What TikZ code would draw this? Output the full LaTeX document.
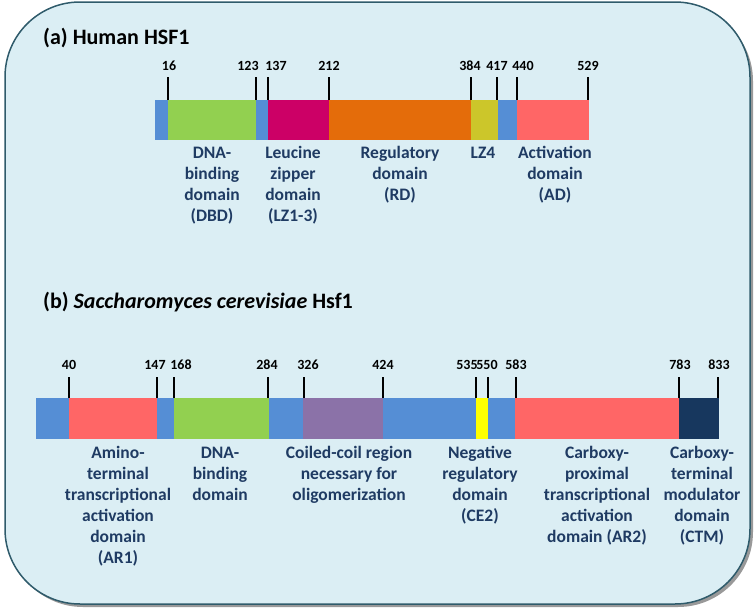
\documentclass[tikz,border=0pt]{standalone}
\usepackage{fontspec}
\setmainfont{Carlito}
\definecolor{bgc}{HTML}{DBEEF4}
\definecolor{bdc}{HTML}{2F5B6B}
\definecolor{labc}{HTML}{1F3B63}
\definecolor{cblue}{HTML}{558ED5}
\definecolor{cgreen}{HTML}{92D050}
\definecolor{cmag}{HTML}{CC0066}
\definecolor{corange}{HTML}{E46C0A}
\definecolor{colive}{HTML}{CCC62A}
\definecolor{csalmon}{HTML}{FF6666}
\definecolor{cpurple}{HTML}{8B72A8}
\definecolor{cyellow}{HTML}{FFFF00}
\definecolor{cnavy}{HTML}{17375E}
\newcommand{\fs}{\rule{0pt}{13pt}}
\begin{document}
\begin{tikzpicture}[x=1pt,y=-1pt,
  lbl/.style={font=\fontsize{17.5}{21}\selectfont\bfseries, text=labc, align=center, anchor=north, inner sep=0pt},
  num/.style={font=\fontsize{14}{16}\selectfont\bfseries, anchor=base, inner sep=0pt},
  tickline/.style={line width=1.1pt, black},
  ttl/.style={font=\fontsize{22}{26}\selectfont\bfseries, anchor=base west, inner sep=0pt}]
\useasboundingbox (0,0) rectangle (756,613);
% frame
\fill[black!40, rounded corners=75pt] (8,6) rectangle (753,607);
\filldraw[fill=bgc, draw=bdc, line width=1.5pt, rounded corners=75pt] (5,2) rectangle (750,604);
% titles
\node[ttl] (ta) at (43,44) {(a) Human HSF1};
\node[ttl] (tb) at (43,308) {(b) \textit{Saccharomyces cerevisiae} Hsf1};
% bar a
\foreach \a/\b/\c in {155/168/cblue,168/256/cgreen,256/268/cblue,268/329/cmag,329/471/corange,471/498/colive,498/517/cblue,517/589/csalmon}
  \fill[\c] (\a,100) rectangle (\b,140);
% ticks a
\foreach \t/\xn/\n in {168/169/16,256/248/123,268/276/137,329/329/212,471/470/384,497/497/417,517/523/440,588/588/529}{
  \node[num] (na\n) at (\xn,70) {\n};
  \draw[tickline] (\t,77) -- (\t,100);
}
% labels a
\node[lbl] (la1) at (212,145) {\fs DNA-\\binding\\domain\\(DBD)};
\node[lbl] (la2) at (293,145) {\fs Leucine\\zipper\\domain\\(LZ1-3)};
\node[lbl] (la3) at (400,145) {\fs Regulatory\\domain\\(RD)};
\node[lbl] (la4) at (483,145) {\fs LZ4};
\node[lbl] (la5) at (555,145) {\fs Activation\\domain\\(AD)};
% bar b
\foreach \a/\b/\c in {36/69/cblue,69/157/csalmon,157/174/cblue,174/269/cgreen,269/303/cblue,303/383/cpurple,383/476/cblue,476/488/cyellow,488/515/cblue,515/679/csalmon,679/719/cnavy}
  \fill[\c] (\a,398) rectangle (\b,439);
% ticks b
\foreach \t/\xn/\n in {69/69/40,157/155/147,174/181/168,268/267/284,304/308/326,383/383/424,476/467/535,488/487/550,516/516/583,679/680/783,718/719/833}{
  \node[num] (nb\n) at (\xn,369) {\n};
  \draw[tickline] (\t,377) -- (\t,398);
}
% labels b
\node[lbl] (lb1) at (118,445) {\fs Amino-\\terminal\\transcriptional\\activation\\domain\\(AR1)};
\node[lbl] (lb2) at (220,445) {\fs DNA-\\binding\\domain};
\node[lbl] (lb3) at (349,445) {\fs Coiled-coil region\\necessary for\\oligomerization};
\node[lbl] (lb4) at (480,445) {\fs Negative\\regulatory\\domain\\(CE2)};
\node[lbl] (lb5) at (597,445) {\fs Carboxy-\\proximal\\transcriptional\\activation\\domain (AR2)};
\node[lbl] (lb6) at (702,445) {\fs Carboxy-\\terminal\\modulator\\domain\\(CTM)};
\end{tikzpicture}
\end{document}
